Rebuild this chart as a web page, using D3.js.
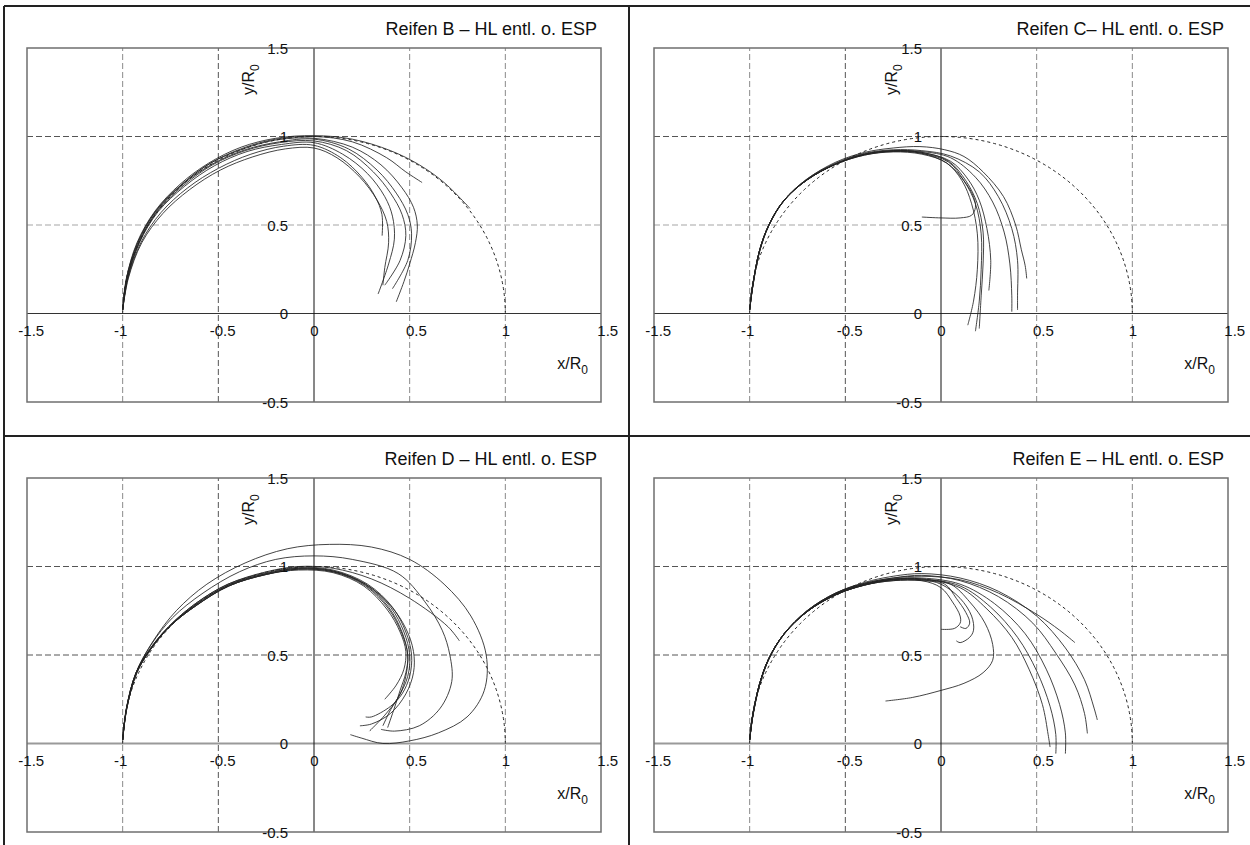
<!DOCTYPE html>
<html>
<head>
<meta charset="utf-8">
<script src="https://cdn.jsdelivr.net/npm/d3@7"></script>
<style>
  body { margin: 0; background: #fff; }
  svg text { font-family: "Liberation Sans", Arial, Helvetica, sans-serif; fill: #111; }
</style>
</head>
<body>
<svg id="chart" width="1250" height="845"></svg>
<script>
// ---- axis ticks and grid ----
const xTicks = [-1.5, -1, -0.5, 0, 0.5, 1, 1.5];
const yTicks = [-0.5, 0, 0.5, 1, 1.5];
const xGrid = [-1, -0.5, 0.5, 1];
const yGrid = [0.5, 1];
const panelTitles = [
  "Reifen B \u2013 HL entl. o. ESP",
  "Reifen C\u2013 HL entl. o. ESP",
  "Reifen D \u2013 HL entl. o. ESP",
  "Reifen E \u2013 HL entl. o. ESP"
];

// ---- measured trajectories (x/R0, y/R0), one array per run ----
const tyreB = [
  [[-1,0.02],[-0.98,0.2],[-0.925,0.4],[-0.83,0.58],[-0.7,0.73],[-0.55,0.85],[-0.38,0.94],[-0.2,0.99],[0,1.005],[0.2,0.985],[0.4,0.92],[0.55,0.84],[0.68,0.74],[0.815,0.594]],
  [[-1,0.02],[-0.978,0.2],[-0.92,0.4],[-0.825,0.58],[-0.69,0.73],[-0.54,0.85],[-0.37,0.935],[-0.2,0.985],[0,1.0],[0.2,0.97],[0.38,0.88],[0.48,0.8],[0.565,0.74]],
  [[-1,0.02],[-0.98,0.2],[-0.922,0.4],[-0.827,0.58],[-0.69,0.73],[-0.54,0.85],[-0.37,0.93],[-0.2,0.98],[0,0.99],[0.2,0.94],[0.35,0.84],[0.46,0.71],[0.52,0.6],[0.54,0.5],[0.53,0.4],[0.5,0.28],[0.47,0.18],[0.43,0.066]],
  [[-1,0.02],[-0.976,0.2],[-0.915,0.4],[-0.82,0.58],[-0.685,0.73],[-0.53,0.845],[-0.36,0.925],[-0.18,0.97],[0,0.985],[0.18,0.93],[0.33,0.81],[0.43,0.68],[0.49,0.56],[0.51,0.45],[0.49,0.3],[0.41,0.14]],
  [[-1,0.02],[-0.975,0.2],[-0.915,0.4],[-0.82,0.575],[-0.68,0.725],[-0.53,0.84],[-0.36,0.92],[-0.18,0.965],[0,0.975],[0.17,0.92],[0.31,0.8],[0.4,0.68],[0.46,0.56],[0.48,0.44],[0.45,0.3],[0.37,0.16]],
  [[-1,0.02],[-0.974,0.2],[-0.912,0.4],[-0.815,0.575],[-0.675,0.72],[-0.52,0.835],[-0.35,0.915],[-0.17,0.955],[0,0.965],[0.15,0.9],[0.28,0.79],[0.37,0.66],[0.41,0.55],[0.42,0.42],[0.39,0.28],[0.335,0.11]],
  [[-1,0.02],[-0.972,0.2],[-0.905,0.4],[-0.8,0.57],[-0.66,0.71],[-0.5,0.82],[-0.33,0.9],[-0.16,0.945],[0,0.95],[0.14,0.88],[0.25,0.77],[0.32,0.66],[0.355,0.56],[0.356,0.44]],
  [[-1,0.02],[-0.97,0.2],[-0.9,0.4],[-0.79,0.565],[-0.65,0.7],[-0.49,0.81],[-0.32,0.885],[-0.15,0.93],[0,0.935],[0.12,0.88],[0.24,0.77],[0.33,0.64],[0.38,0.52],[0.39,0.4],[0.37,0.26],[0.36,0.16]]
];

const tyreC = [
  [[-1,0.02],[-0.985,0.15],[-0.95,0.35],[-0.9,0.5],[-0.82,0.64],[-0.7,0.76],[-0.55,0.855],[-0.4,0.91],[-0.25,0.935],[-0.11,0.943],[0.02,0.925],[0.12,0.887],[0.22,0.8],[0.327,0.66],[0.39,0.5],[0.42,0.36],[0.44,0.27],[0.448,0.198]],
  [[-1,0.02],[-0.985,0.15],[-0.95,0.35],[-0.9,0.5],[-0.82,0.64],[-0.7,0.76],[-0.55,0.85],[-0.4,0.905],[-0.25,0.925],[-0.1,0.92],[0.05,0.89],[0.2,0.8],[0.3,0.66],[0.37,0.48],[0.4,0.3],[0.4,0.1],[0.4,0.02]],
  [[-1,0.02],[-0.984,0.15],[-0.948,0.35],[-0.898,0.5],[-0.818,0.64],[-0.7,0.755],[-0.55,0.845],[-0.4,0.9],[-0.25,0.92],[-0.1,0.915],[0.05,0.88],[0.18,0.77],[0.27,0.63],[0.33,0.46],[0.36,0.28],[0.37,0.1],[0.37,0.01]],
  [[-1,0.02],[-0.984,0.15],[-0.948,0.35],[-0.898,0.5],[-0.818,0.64],[-0.7,0.755],[-0.55,0.845],[-0.4,0.9],[-0.25,0.92],[-0.1,0.91],[0.05,0.86],[0.14,0.76],[0.2,0.64],[0.24,0.48],[0.26,0.3],[0.25,0.13]],
  [[-1,0.02],[-0.985,0.15],[-0.95,0.35],[-0.9,0.5],[-0.82,0.64],[-0.7,0.755],[-0.55,0.845],[-0.4,0.898],[-0.25,0.918],[-0.1,0.91],[0.04,0.86],[0.13,0.75],[0.19,0.62],[0.22,0.46],[0.22,0.28],[0.21,0.1],[0.2,-0.085]],
  [[-1,0.02],[-0.984,0.15],[-0.949,0.35],[-0.899,0.5],[-0.82,0.64],[-0.7,0.755],[-0.55,0.843],[-0.4,0.895],[-0.25,0.915],[-0.1,0.905],[0.04,0.855],[0.12,0.75],[0.18,0.62],[0.21,0.45],[0.21,0.25],[0.2,0.07],[0.18,-0.1]],
  [[-1,0.02],[-0.985,0.15],[-0.95,0.35],[-0.9,0.5],[-0.82,0.64],[-0.7,0.755],[-0.55,0.843],[-0.4,0.895],[-0.25,0.913],[-0.1,0.9],[0.03,0.85],[0.11,0.75],[0.16,0.62],[0.19,0.45],[0.19,0.25],[0.17,0.07],[0.14,-0.066]],
  [[-1,0.02],[-0.985,0.15],[-0.95,0.35],[-0.9,0.5],[-0.82,0.64],[-0.7,0.755],[-0.55,0.845],[-0.4,0.9],[-0.25,0.918],[-0.1,0.905],[0.03,0.85],[0.12,0.75],[0.17,0.66],[0.18,0.6],[0.16,0.555],[0.1,0.54],[0,0.54],[-0.1,0.545]]
];

const tyreD = [
  [[-1,0.02],[-0.98,0.2],[-0.93,0.4],[-0.84,0.58],[-0.72,0.75],[-0.56,0.9],[-0.36,1.02],[-0.14,1.1],[0.08,1.125],[0.3,1.11],[0.5,1.04],[0.68,0.9],[0.82,0.72],[0.9,0.5],[0.89,0.3],[0.8,0.15],[0.65,0.06],[0.5,0.015],[0.36,0.0],[0.25,0.03],[0.19,0.05]],
  [[-1,0.02],[-0.98,0.2],[-0.93,0.4],[-0.85,0.56],[-0.74,0.71],[-0.58,0.85],[-0.39,0.97],[-0.2,1.04],[0,1.06],[0.2,1.04],[0.44,0.96],[0.58,0.8],[0.67,0.64],[0.71,0.5],[0.72,0.35],[0.66,0.2],[0.55,0.1],[0.42,0.07],[0.35,0.08]],
  [[-1,0.02],[-0.98,0.2],[-0.93,0.4],[-0.86,0.53],[-0.76,0.66],[-0.62,0.79],[-0.45,0.9],[-0.25,0.97],[-0.08,1.0],[0.1,0.99],[0.3,0.93],[0.5,0.82],[0.7,0.66],[0.76,0.58]],
  [[-1,0.02],[-0.98,0.2],[-0.93,0.4],[-0.86,0.53],[-0.76,0.66],[-0.62,0.79],[-0.45,0.9],[-0.25,0.965],[-0.08,0.995],[0.1,0.98],[0.28,0.9],[0.41,0.77],[0.48,0.63],[0.51,0.5],[0.5,0.38],[0.46,0.28],[0.4,0.21],[0.3,0.15],[0.27,0.15]],
  [[-1,0.02],[-0.979,0.2],[-0.928,0.4],[-0.857,0.53],[-0.757,0.66],[-0.617,0.785],[-0.447,0.895],[-0.25,0.96],[-0.08,0.99],[0.1,0.975],[0.27,0.9],[0.4,0.77],[0.47,0.63],[0.5,0.5],[0.49,0.38],[0.44,0.26],[0.37,0.16],[0.29,0.07]],
  [[-1,0.02],[-0.979,0.2],[-0.928,0.4],[-0.857,0.53],[-0.757,0.66],[-0.617,0.785],[-0.447,0.895],[-0.25,0.96],[-0.08,0.99],[0.1,0.975],[0.27,0.895],[0.39,0.77],[0.46,0.63],[0.49,0.5],[0.48,0.38],[0.45,0.28],[0.4,0.19],[0.36,0.1]],
  [[-1,0.02],[-0.978,0.2],[-0.926,0.4],[-0.855,0.53],[-0.755,0.66],[-0.615,0.78],[-0.445,0.89],[-0.25,0.955],[-0.08,0.985],[0.1,0.97],[0.27,0.89],[0.39,0.76],[0.46,0.62],[0.49,0.5],[0.48,0.4],[0.45,0.3],[0.42,0.2],[0.385,0.09]],
  [[-1,0.02],[-0.978,0.2],[-0.926,0.4],[-0.855,0.53],[-0.755,0.66],[-0.615,0.78],[-0.445,0.89],[-0.25,0.955],[-0.08,0.98],[0.1,0.965],[0.26,0.89],[0.38,0.76],[0.45,0.63],[0.48,0.52],[0.47,0.42],[0.43,0.33],[0.37,0.25]],
  [[-1,0.02],[-0.978,0.2],[-0.926,0.4],[-0.855,0.53],[-0.755,0.66],[-0.615,0.78],[-0.445,0.89],[-0.25,0.955],[-0.08,0.985],[0.1,0.97],[0.27,0.9],[0.4,0.78],[0.48,0.65],[0.52,0.52],[0.52,0.4],[0.48,0.28],[0.4,0.17],[0.3,0.11],[0.24,0.1]]
];

const tyreE = [
  [[-1,0.02],[-0.985,0.15],[-0.95,0.33],[-0.9,0.48],[-0.82,0.62],[-0.7,0.75],[-0.55,0.85],[-0.4,0.91],[-0.25,0.945],[-0.1,0.96],[0.1,0.935],[0.3,0.86],[0.5,0.72],[0.65,0.54],[0.75,0.36],[0.8,0.2],[0.817,0.133]],
  [[-1,0.02],[-0.985,0.15],[-0.95,0.33],[-0.9,0.48],[-0.82,0.62],[-0.7,0.75],[-0.55,0.85],[-0.4,0.905],[-0.25,0.935],[-0.1,0.95],[0.1,0.92],[0.3,0.83],[0.48,0.68],[0.6,0.51],[0.7,0.33],[0.75,0.17],[0.765,0.057]],
  [[-1,0.02],[-0.985,0.15],[-0.95,0.33],[-0.9,0.48],[-0.82,0.62],[-0.7,0.75],[-0.55,0.85],[-0.4,0.905],[-0.25,0.935],[-0.1,0.945],[0.1,0.925],[0.3,0.85],[0.5,0.73],[0.62,0.64],[0.7,0.57]],
  [[-1,0.02],[-0.984,0.15],[-0.948,0.33],[-0.898,0.48],[-0.818,0.62],[-0.7,0.745],[-0.55,0.845],[-0.4,0.9],[-0.25,0.93],[-0.1,0.935],[0.1,0.9],[0.28,0.79],[0.44,0.62],[0.55,0.42],[0.62,0.22],[0.65,0.06],[0.65,-0.057]],
  [[-1,0.02],[-0.984,0.15],[-0.948,0.33],[-0.898,0.48],[-0.818,0.62],[-0.7,0.745],[-0.55,0.845],[-0.4,0.9],[-0.25,0.928],[-0.1,0.93],[0.1,0.89],[0.26,0.77],[0.4,0.6],[0.5,0.41],[0.57,0.21],[0.6,0.05],[0.6,-0.057]],
  [[-1,0.02],[-0.984,0.15],[-0.948,0.33],[-0.898,0.48],[-0.818,0.62],[-0.7,0.745],[-0.55,0.845],[-0.4,0.9],[-0.25,0.928],[-0.1,0.93],[0.1,0.88],[0.24,0.76],[0.37,0.6],[0.46,0.42],[0.53,0.22],[0.56,0.05],[0.57,-0.02]],
  [[-1,0.02],[-0.985,0.15],[-0.95,0.33],[-0.9,0.48],[-0.82,0.62],[-0.7,0.745],[-0.55,0.84],[-0.4,0.895],[-0.25,0.925],[-0.1,0.925],[0.05,0.9],[0.15,0.8],[0.23,0.68],[0.27,0.56],[0.27,0.47],[0.22,0.4],[0.12,0.34],[0,0.3],[-0.15,0.26],[-0.29,0.24]],
  [[-1,0.02],[-0.985,0.15],[-0.95,0.33],[-0.9,0.48],[-0.82,0.62],[-0.7,0.745],[-0.55,0.84],[-0.4,0.895],[-0.25,0.925],[-0.1,0.925],[0,0.9],[0.1,0.82],[0.16,0.72],[0.17,0.64],[0.15,0.6],[0.1,0.57],[0.08,0.58]],
  [[-1,0.02],[-0.985,0.15],[-0.95,0.33],[-0.9,0.48],[-0.82,0.62],[-0.7,0.745],[-0.55,0.84],[-0.4,0.895],[-0.25,0.92],[-0.1,0.92],[0,0.88],[0.06,0.8],[0.1,0.72],[0.1,0.68],[0.07,0.65],[0,0.645]],
  [[-1,0.02],[-0.985,0.15],[-0.95,0.33],[-0.9,0.48],[-0.82,0.62],[-0.7,0.745],[-0.55,0.84],[-0.4,0.895],[-0.25,0.92],[-0.1,0.92],[0.02,0.9],[0.08,0.82],[0.13,0.74],[0.15,0.68],[0.13,0.65],[0.1,0.66]]
];

const runsByPanel = [tyreB, tyreC, tyreD, tyreE];

// ---- page layout ----
const svg = d3.select("#chart");
const W = 1250, H = 845;
svg.append("rect").attr("width", W).attr("height", H).attr("fill", "#fff");

const plotW = 574, plotH = 354;
const panels = [
  { left: 27,  top: 48,  yLabelGap: 26, yTitleGap: 60, light: true  },
  { left: 654, top: 48,  yLabelGap: 19, yTitleGap: 44, light: true  },
  { left: 27,  top: 478, yLabelGap: 26, yTitleGap: 60, light: false },
  { left: 654, top: 478, yLabelGap: 19, yTitleGap: 44, light: false }
];

const fmt = d => String(d);
// horizontal offset so that the leading digit sits on the tick
const leadOffset = d => (d < 0 ? 5.0 : 0) + 4.2;

panels.forEach((p, i) => {
  const x = d3.scaleLinear().domain([-1.5, 1.5]).range([p.left, p.left + plotW]);
  const y = d3.scaleLinear().domain([-0.5, 1.5]).range([p.top + plotH, p.top]);
  const g = svg.append("g");

  // dashed grid
  g.selectAll(".vgrid").data(xGrid).join("line")
    .attr("x1", d => x(d)).attr("x2", d => x(d))
    .attr("y1", y(-0.5)).attr("y2", y(1.5))
    .attr("stroke", d => (d === -0.5 ? "#555" : "#8a8a8a"))
    .attr("stroke-width", 1)
    .attr("stroke-dasharray", "6,3");
  g.selectAll(".hgrid").data(yGrid).join("line")
    .attr("x1", x(-1.5)).attr("x2", x(1.5))
    .attr("y1", d => y(d)).attr("y2", d => y(d))
    .attr("stroke", d => (p.light && d === 0.5 ? "#c4c4c4" : "#555"))
    .attr("stroke-width", d => (p.light && d === 0.5 ? 1.5 : 1))
    .attr("stroke-dasharray", "6,3");

  // axes through the origin
  g.append("line")
    .attr("x1", x(-1.5)).attr("x2", x(1.5))
    .attr("y1", y(0)).attr("y2", y(0))
    .attr("stroke", p.light ? "#333" : "#9a9a9a")
    .attr("stroke-width", p.light ? 1 : 2);
  g.append("line")
    .attr("x1", x(0)).attr("x2", x(0))
    .attr("y1", y(-0.5)).attr("y2", y(1.5))
    .attr("stroke", "#111").attr("stroke-width", 1);

  // plot frame
  g.append("rect")
    .attr("x", x(-1.5)).attr("y", y(1.5))
    .attr("width", x(1.5) - x(-1.5)).attr("height", y(-0.5) - y(1.5))
    .attr("fill", "none").attr("stroke", "#6f6f6f").attr("stroke-width", 1.5);

  // reference circle of radius R0
  g.append("path")
    .attr("d", `M${x(-1)},${y(0)} A${x(1) - x(0)},${y(0) - y(1)} 0 0 1 ${x(1)},${y(0)}`)
    .attr("fill", "none").attr("stroke", "#222").attr("stroke-width", 1)
    .attr("stroke-dasharray", "3,3");

  // trajectories
  const line = d3.line().x(d => x(d[0])).y(d => y(d[1])).curve(d3.curveCatmullRom.alpha(0.5));
  g.selectAll(".run").data(runsByPanel[i]).join("path")
    .attr("d", line)
    .attr("fill", "none").attr("stroke", "#222").attr("stroke-width", 0.85);

  // tick labels
  const xAxis = d3.axisBottom(x).tickValues(xTicks).tickSize(0).tickFormat(fmt);
  const xa = g.append("g").attr("transform", `translate(0,${y(0)})`).call(xAxis);
  xa.select(".domain").remove();
  xa.selectAll("text")
    .attr("text-anchor", "start")
    .attr("x", d => -leadOffset(d))
    .attr("y", 22).attr("dy", null)
    .style("font-size", "15px");

  const yAxis = d3.axisLeft(y).tickValues(yTicks).tickSize(0).tickPadding(0).tickFormat(fmt);
  const ya = g.append("g").attr("transform", `translate(${x(0) - p.yLabelGap},0)`).call(yAxis);
  ya.select(".domain").remove();
  ya.selectAll("text")
    .attr("text-anchor", "end").attr("dy", "0.36em")
    .style("font-size", "15px");
  g.selectAll(".tick text").attr("fill", "#111");
  xa.attr("font-family", null); ya.attr("font-family", null);

  // axis titles
  const xt = g.append("text")
    .attr("x", x(1.5) - 13).attr("y", y(0) + 55)
    .attr("text-anchor", "end").style("font-size", "16px");
  xt.append("tspan").text("x/R");
  xt.append("tspan").attr("dy", 5).style("font-size", "12px").text("0");

  const yt = g.append("text")
    .attr("transform", `translate(${x(0) - p.yTitleGap},${y(1.5) + 47}) rotate(-90)`)
    .attr("text-anchor", "start").style("font-size", "16px");
  yt.append("tspan").text("y/R");
  yt.append("tspan").attr("dy", 5).style("font-size", "12px").text("0");

  // panel title
  g.append("text")
    .attr("x", x(1.5) - 4).attr("y", y(1.5) - 13)
    .attr("text-anchor", "end").style("font-size", "18px")
    .text(panelTitles[i]);
});

// panel frame and dividers
const frame = [
  [4, 6, 4, H], [4, 6, W, 6], [629, 6, 629, H], [4, 436, W, 436]
];
svg.selectAll(".frame").data(frame).join("line")
  .attr("x1", d => d[0]).attr("y1", d => d[1])
  .attr("x2", d => d[2]).attr("y2", d => d[3])
  .attr("stroke", "#222").attr("stroke-width", 2);
</script>
</body>
</html>
